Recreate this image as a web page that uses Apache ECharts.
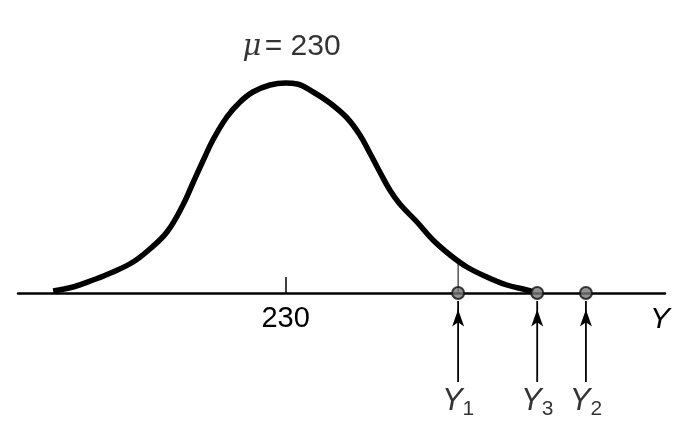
<!DOCTYPE html>
<html><head><meta charset="utf-8">
<script src="https://cdn.jsdelivr.net/npm/echarts@6/dist/echarts.min.js"></script>
<style>html,body{margin:0;padding:0;background:#fff}#c{width:685px;height:444px}</style>
</head><body><div id="c"></div>
<script>
// Curve: x (Y value), height
const curveX = [171.8,176.8,181.8,186.8,191.8,196.0,200.3,204.3,206.8,209.3,211.8,215.3,218.6,221.8,226.1,230.0,232.9,236.9,241.1,245.4,248.6,251.1,253.6,256.1,258.6,262.9,266.9,271.2,275.4,280.4,285.4,290.4,292.0];
const curveH = [2,6,13,21,31,44,61,88,110,132,153,176,191,201,208,210,209,201,190,175,158,140,121,103,89,71,53,38,26,16,8,3,1];
const obsNames = ['1','3','2'];
const obsX = [273.2, 293.0, 305.2];
const muValue = 230;
const tickValues = [230];

const font = 'Liberation Sans';
const chart = echarts.init(document.getElementById('c'));
const curveData = curveX.map((x,i)=>[x,curveH[i]]);
const arrowSeries = obsX.map(x=>({
  type:'line',clip:false,z:4,showSymbol:true,
  lineStyle:{color:'#000',width:1.8},itemStyle:{color:'#000'},
  data:[{value:[x,-89],symbol:'none'},{value:[x,-8],symbol:'arrow',symbolSize:[9,17],symbolOffset:[0,'50%']}]
}));
chart.setOption({
  animation:false,
  grid:{left:18,right:20,top:0,bottom:151,containLabel:false,outerBoundsMode:'none'},
  xAxis:{type:'value',min:163,max:325,position:'bottom',
    axisLine:{onZero:false,lineStyle:{color:'#000',width:2.5}},
    axisTick:{show:true,inside:true,length:16,customValues:tickValues,lineStyle:{color:'#000',width:1.5}},
    axisLabel:{show:true,customValues:tickValues,margin:11,fontFamily:font,fontSize:29,color:'#000'},
    splitLine:{show:false},
    name:'Y',nameLocation:'end',nameGap:-15,
    nameTextStyle:{fontFamily:font,fontStyle:'italic',fontSize:30,color:'#000',align:'left',verticalAlign:'top',padding:[12,0,0,0]}
  },
  yAxis:{type:'value',min:0,max:293,show:false},
  series:[
    {type:'line',data:curveData,smooth:0.4,symbol:'none',lineStyle:{color:'#000',width:5.5},z:3,clip:false},
    {type:'line',data:[[obsX[0],0],[obsX[0],31]],symbol:'none',lineStyle:{color:'#000',width:1},z:2},
    {type:'scatter',data:obsX.map(x=>[x,0]),symbolSize:12,clip:false,
      itemStyle:{color:'#777',borderColor:'#111',borderWidth:2},z:5},
    ...arrowSeries,
    {type:'scatter',data:obsX.map((x,i)=>({value:[x,-89],name:obsNames[i]})),symbolSize:0,z:4,clip:false,
      label:{show:true,position:'bottom',distance:4,
        formatter:p=>'{y|Y}{s|'+p.name+'}',
        rich:{y:{fontFamily:font,fontStyle:'italic',fontSize:31,color:'#000',lineHeight:34,verticalAlign:'top'},
              s:{fontFamily:font,fontSize:21,color:'#000',lineHeight:34,verticalAlign:'bottom',padding:[12,0,0,0]}}}
    },
    {type:'scatter',data:[[muValue+1.5,246]],symbolSize:0,clip:false,
      label:{show:true,position:'inside',
        formatter:'{m|μ} {t|= '+muValue+'}',
        rich:{m:{fontFamily:'DejaVu Serif',fontStyle:'italic',fontSize:29,color:'#000'},
              t:{fontFamily:font,fontSize:30,color:'#000'}}}}
  ]
});
</script></body></html>
